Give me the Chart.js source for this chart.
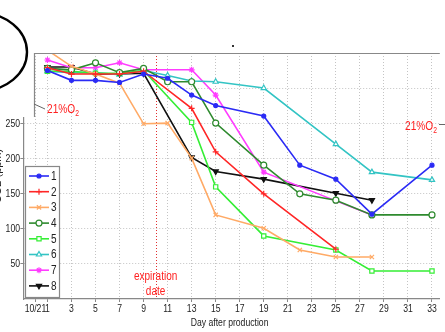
<!DOCTYPE html>
<html>
<head>
<meta charset="utf-8">
<script src="https://cdn.jsdelivr.net/npm/chart.js@4"></script>
<style>
  html, body { margin: 0; padding: 0; background: #fff; }
  canvas { display: block; }
</style>
</head>
<body>
<canvas id="myChart" width="445" height="332"></canvas>
<script>
// data (CO2, ppm, per day after production)
const seriesNames = ['1', '2', '3', '4', '5', '6', '7', '8'];

const days1 = [1, 3, 5, 7, 9, 11, 13, 15, 19, 22, 25, 28, 33];
const co2_1 = [326, 312, 312, 309, 321, 315, 291, 276, 261, 191, 171, 121, 191];

const days2 = [1, 3, 5, 7, 9, 13, 15, 19, 25];
const co2_2 = [330, 321, 321, 321, 325, 272, 210, 150, 71];

const days3 = [1, 3, 5, 7, 9, 11, 13, 15, 19, 22, 25, 28];
const co2_3 = [355, 332, 321, 308, 250, 251, 201, 120, 101, 70, 60, 60];

const days4 = [1, 3, 5, 7, 9, 11, 13, 15, 19, 22, 25, 28, 33];
const co2_4 = [329, 327, 337, 323, 329, 310, 310, 251, 191, 150, 141, 120, 120];

const days5 = [1, 3, 5, 7, 9, 13, 15, 19, 25, 28, 33];
const co2_5 = [325, 325, 322, 322, 326, 252, 160, 90, 70, 40, 40];

const days6 = [1, 3, 5, 7, 9, 11, 13, 15, 19, 25, 28, 33];
const co2_6 = [325, 323, 323, 320, 326, 319, 311, 310, 301, 221, 181, 170];

const days7 = [1, 3, 5, 7, 9, 13, 15, 19, 25, 28];
const co2_7 = [341, 330, 330, 337, 327, 327, 291, 181, 140, 120];

const days8 = [1, 3, 5, 7, 9, 13, 15, 19, 25, 28];
const co2_8 = [331, 331, 321, 321, 322, 202, 182, 171, 151, 141];

const xTickDays = [0, 1, 3, 5, 7, 9, 11, 13, 15, 17, 19, 21, 23, 25, 27, 29, 31, 33];
const xTickLabels = ['10/21', '1', '3', '5', '7', '9', '11', '13', '15', '17', '19', '21', '23', '25', '27', '29', '31', '33'];
const yTickValues = [50, 100, 150, 200, 250, 300];
const yTickShown = [50, 100, 150, 200, 250];
const expirationDay = 10;

const allDays = [days1, days2, days3, days4, days5, days6, days7, days8];
const allCo2 = [co2_1, co2_2, co2_3, co2_4, co2_5, co2_6, co2_7, co2_8];

const colors = ['#2b2bf5', '#ff2626', '#ffaa66', '#2e8a2e', '#35ee35', '#33c4c4', '#ff3cff', '#111111'];
const markers = ['circle', 'cross', 'crossRot', 'circle', 'rect', 'triangle', 'star', 'triangle'];
const markerRot = [0, 0, 0, 0, 0, 0, 0, 180];
const markerFill = [true, false, false, false, false, false, false, true];

const FONT = "'Liberation Sans', Arial, sans-serif";

const datasets = seriesNames.map((name, i) => ({
  label: name,
  data: allDays[i].map((d, j) => ({ x: d, y: allCo2[i][j] })),
  borderColor: colors[i],
  backgroundColor: markerFill[i] ? colors[i] : '#ffffff',
  pointBorderColor: colors[i],
  pointStyle: markers[i],
  pointRotation: markerRot[i],
  pointRadius: i == 0 ? 2 : 3,
  pointBorderWidth: 1.2,
  borderWidth: 1.6,
  tension: 0,
  fill: false
}));

// narrow text like the original figure
function narrowText(ctx, str, x, y, size, color, align, base, sx) {
  ctx.save();
  ctx.translate(x, y);
  ctx.scale(sx || 0.75, 1);
  ctx.font = size + 'px ' + FONT;
  ctx.fillStyle = color;
  ctx.textAlign = align || 'center';
  ctx.textBaseline = base || 'middle';
  ctx.fillText(str, 0, 0);
  const w = ctx.measureText(str).width * (sx || 0.75);
  ctx.restore();
  return w;
}

const extras = {
  id: 'extras',
  beforeDatasetsDraw(chart) {
    const { ctx, chartArea: a, scales } = chart;
    const xe = scales.x.getPixelForValue(expirationDay);
    ctx.save();
    ctx.strokeStyle = '#e03030';
    ctx.lineWidth = 1;
    ctx.setLineDash([1, 2]);
    ctx.beginPath();
    ctx.moveTo(Math.round(xe) + 0.5, a.top);
    ctx.lineTo(Math.round(xe) + 0.5, a.bottom);
    ctx.stroke();
    ctx.restore();
  },
  afterDraw(chart) {
    const { ctx, chartArea: a, scales } = chart;
    ctx.save();

    // tick labels from the scales
    scales.x.ticks.forEach((t, i) => {
      narrowText(ctx, xTickLabels[i], scales.x.getPixelForValue(t.value), 309, 11.5, '#222');
    });
    scales.y.ticks.forEach(t => {
      if (yTickShown.includes(t.value)) {
        narrowText(ctx, String(t.value), 20, scales.y.getPixelForValue(t.value), 11.5, '#222', 'right');
      }
    });
    narrowText(ctx, 'Day after production', (a.left + a.right) / 2 - 2, 323, 11.5, '#222');

    // white patch in the top-left corner of the figure
    ctx.fillStyle = '#fff';
    ctx.fillRect(0, 0, 34, 117);

    // top frame
    ctx.strokeStyle = '#888';
    ctx.lineWidth = 1.2;
    ctx.beginPath();
    ctx.moveTo(34, a.top + 0.5);
    ctx.lineTo(a.right, a.top + 0.5);
    ctx.moveTo(34.5, a.top);
    ctx.lineTo(34.5, 117);
    ctx.stroke();

    // expiration date text
    const xe = scales.x.getPixelForValue(expirationDay);
    narrowText(ctx, 'expiration', xe, 277, 12.5, '#ff2020', 'center', 'middle', 0.8);
    narrowText(ctx, 'date', xe, 292, 12.5, '#ff2020', 'center', 'middle', 0.8);

    // 21%O2 labels
    function o2(x, y) {
      const w = narrowText(ctx, '21%O', x, y, 13.5, '#ff2020', 'left', 'alphabetic', 0.75);
      narrowText(ctx, '2', x + w, y + 3, 8.5, '#ff2020', 'left', 'alphabetic', 0.8);
    }
    o2(47, 113);
    o2(405, 130);
    ctx.strokeStyle = '#666';
    ctx.lineWidth = 1;
    ctx.beginPath();
    ctx.moveTo(34, 104);
    ctx.lineTo(45, 109);
    ctx.moveTo(439, 124.5);
    ctx.lineTo(445, 124.5);
    ctx.stroke();

    // legend box
    const lx = 25, ly = 166, lw = 34, lh = 131;
    ctx.fillStyle = '#fff';
    ctx.fillRect(lx, ly, lw, lh);
    ctx.strokeStyle = '#888';
    ctx.lineWidth = 1.2;
    ctx.strokeRect(lx + 0.5, ly + 0.5, lw, lh);
    chart.data.datasets.forEach((ds, i) => {
      const y = 176 + i * 15.7;
      ctx.strokeStyle = ds.borderColor;
      ctx.lineWidth = 1.6;
      ctx.beginPath();
      ctx.moveTo(29, y);
      ctx.lineTo(49, y);
      ctx.stroke();
      ctx.fillStyle = ds.backgroundColor;
      ctx.strokeStyle = ds.borderColor;
      ctx.lineWidth = 1.2;
      Chart.helpers.drawPoint(ctx, {
        pointStyle: ds.pointStyle, rotation: ds.pointRotation,
        radius: ds.pointRadius, borderWidth: 1.2
      }, 39, y);
      narrowText(ctx, ds.label, 51, y + 0.5, 12.5, '#222', 'left', 'middle', 0.8);
    });

    // cut-off y title of the original figure
    ctx.save();
    ctx.translate(1, 176);
    ctx.rotate(-Math.PI / 2);
    ctx.fillStyle = '#222';
    ctx.font = '11px ' + FONT;
    ctx.textAlign = 'center';
    ctx.textBaseline = 'alphabetic';
    ctx.fillText('CO2 (ppm)', 0, 0);
    ctx.restore();

    // part of a neighbouring drawing
    ctx.strokeStyle = '#000';
    ctx.lineWidth = 2.4;
    ctx.beginPath();
    ctx.ellipse(-20, 52, 47, 39, 0, 0, Math.PI * 2);
    ctx.stroke();
    ctx.fillStyle = '#333';
    ctx.fillRect(232, 45, 2, 2);
    ctx.restore();
  }
};

new Chart(document.getElementById('myChart'), {
  type: 'line',
  data: { datasets: datasets },
  plugins: [extras],
  options: {
    responsive: false,
    animation: false,
    devicePixelRatio: 1,
    layout: { padding: { top: 53, left: 0, right: 0, bottom: 0 } },
    plugins: { legend: { display: false }, tooltip: { enabled: false } },
    scales: {
      x: {
        type: 'linear',
        min: -1,
        max: 33.65,
        afterFit(s) { s.height = 33; },
        afterBuildTicks(s) { s.ticks = xTickDays.map(v => ({ value: v })); },
        grid: { color: '#c4c4c4', tickLength: 3, tickColor: '#888', lineWidth: 1 },
        border: { color: '#888', width: 1.2, dash: [1, 2] },
        ticks: { display: false, autoSkip: false, maxRotation: 0 }
      },
      y: {
        min: 0,
        max: 351,
        afterFit(s) { s.width = 23.4; },
        afterBuildTicks(s) { s.ticks = yTickValues.map(v => ({ value: v })); },
        grid: { color: '#c4c4c4', tickLength: 3, tickColor: '#888', lineWidth: 1 },
        border: { color: '#888', width: 1.2, dash: [1, 2] },
        ticks: { display: false }
      }
    }
  }
});
</script>
</body>
</html>
